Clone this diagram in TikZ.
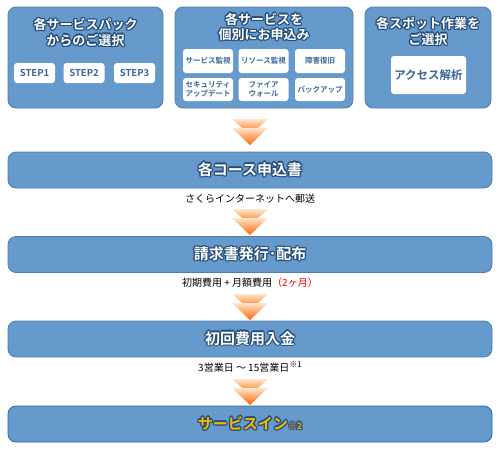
\documentclass[tikz,border=0pt]{standalone}
\usepackage{fontspec}
\setmainfont{Noto Sans CJK JP}[BoldFont={Noto Sans CJK JP Bold}]
\usepackage{contour}
\contourlength{1.3pt}
\contournumber{8}

\definecolor{panelblue}{HTML}{6699CC}
\definecolor{panelline}{HTML}{4E7DAE}
\definecolor{finalline}{HTML}{1F6AA5}
\definecolor{titleline}{HTML}{264D7A}
\definecolor{itemtext}{HTML}{3B6696}
\definecolor{arrowpale}{HTML}{FFE6CC}
\definecolor{arrowdeep}{HTML}{FF6600}
\definecolor{feered}{HTML}{FF0000}
\definecolor{serviceyellow}{HTML}{F5B800}

% text with a dark blue rim
\newcommand{\outl}[1]{\contour{titleline}{#1}}

\begin{document}
\begin{tikzpicture}[x=1pt,y=-1pt]
	\tikzstyle{panel} = [draw=panelline, fill=panelblue, rounded corners=8pt, line width=0.8pt]
	\tikzstyle{title} = [text=white, font=\bfseries\fontsize{13}{15.5}\selectfont, align=center, inner sep=0pt]
	\tikzstyle{item} = [fill=white, rounded corners=3pt, text=itemtext, align=center, inner sep=0pt, font=\bfseries\fontsize{7.5}{8.5}\selectfont]
	\tikzstyle{bar} = [panel, minimum width=484pt, minimum height=36pt, text=white, font=\bfseries\fontsize{15}{17}\selectfont]
	\tikzstyle{note} = [font=\fontsize{10}{12}\selectfont, inner sep=0pt]

	\useasboundingbox (0,0) rectangle (500,450);

%----------three panels on top-------------------------------
	\node[panel, minimum width=155pt, minimum height=101pt] (pack) at (85.5,57.5) {};
	\node[panel, minimum width=178pt, minimum height=101pt] (single) at (264,57.5) {};
	\node[panel, minimum width=126pt, minimum height=101pt] (spot) at (428,57.5) {};

	\node[title] (packtitle) at (85.5,33) {\outl{各サービスパック}\\\outl{からのご選択}};
	\node[title] (singletitle) at (264,27.5) {\outl{各サービスを}\\\outl{個別にお申込み}};
	\node[title] (spottitle) at (428,32) {\outl{各スポット作業を}\\\outl{ご選択}};

	\node[item, minimum width=41pt, minimum height=20pt, font=\bfseries\fontsize{9.5}{10}\selectfont] (step1) at (34.5,73) {STEP1};
	\node[item, minimum width=41pt, minimum height=20pt, font=\bfseries\fontsize{9.5}{10}\selectfont] (step2) at (84,73) {STEP2};
	\node[item, minimum width=41pt, minimum height=20pt, font=\bfseries\fontsize{9.5}{10}\selectfont] (step3) at (134.5,73) {STEP3};

	\node[item, minimum width=50pt, minimum height=24pt] (watch) at (208,61) {サービス監視};
	\node[item, minimum width=50pt, minimum height=24pt] (resource) at (263.5,61) {リソース監視};
	\node[item, minimum width=50pt, minimum height=24pt] (recover) at (320,61) {障害復旧};
	\node[item, minimum width=50pt, minimum height=23pt] (update) at (208,89.5) {セキュリティ\\アップデート};
	\node[item, minimum width=50pt, minimum height=23pt] (firewall) at (263.5,89.5) {ファイア\\ウォール};
	\node[item, minimum width=50pt, minimum height=23pt] (backup) at (320,89.5) {バックアップ};

	\node[item, minimum width=75pt, minimum height=38pt, font=\bfseries\fontsize{11.5}{13}\selectfont] (access) at (428.5,75) {アクセス解析};

%----------flow bars------------------------------------------
	\node[bar] (apply) at (250,170) {\outl{各コース申込書}};
	\node[note] (mail) at (250,199) {さくらインターネットへ郵送};

	\node[bar] (bill) at (250,254.5) {\outl{請求書発行･配布}};
	\node[note] (fee) at (250,283) {初期費用 + 月額費用{\color{feered}（2ヶ月）}};

	\node[bar] (pay) at (250,339) {\outl{初回費用入金}};
	\node[note] (days) at (250,367) {3営業日 〜 15営業日\raisebox{0.4em}{\fontsize{8}{9}\selectfont ※1}};

	\node[bar, draw=finalline, text=serviceyellow] (start) at (250,424) {\outl{サービスイン}{\fontsize{9}{10}\selectfont\outl{※2}}};

%----------orange chevrons------------------------------------
	\foreach \y in {119,209,294,379} {
		\shade[top color=arrowpale, bottom color=arrowdeep] (232,\y) -- (268,\y) -- (250,\y+16) -- cycle;
		\shade[top color=arrowpale, bottom color=arrowdeep] (232,\y+9) -- (268,\y+9) -- (250,\y+26) -- cycle;
	}
\end{tikzpicture}
\end{document}
